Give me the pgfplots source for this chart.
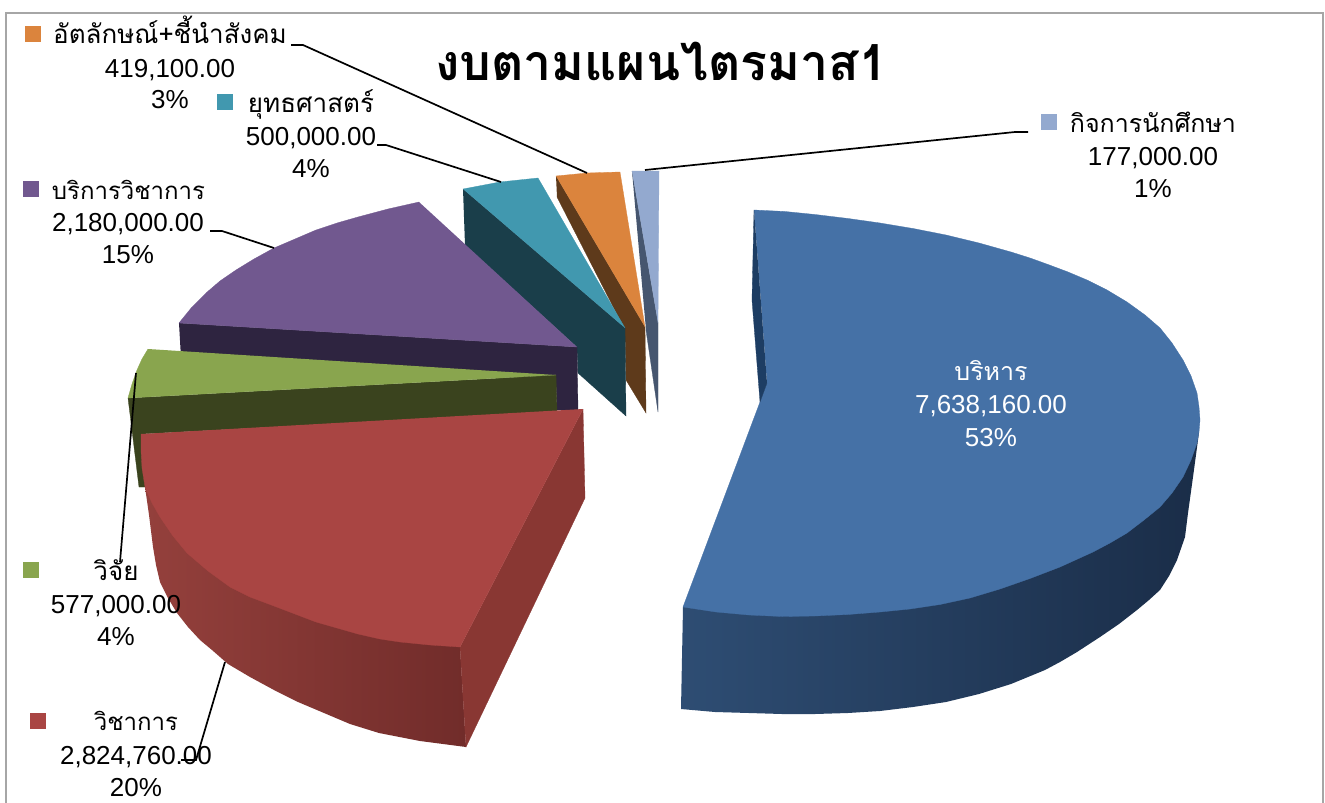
\documentclass[border=0pt]{standalone}
\usepackage{fontspec}
\usepackage{pgfplots}
\pgfplotsset{compat=1.18}
\setmainfont{Liberation Sans}
\newfontfamily\thaifont[Script=Thai]{Loma}

\definecolor{blueTop}{HTML}{4571A6}
\definecolor{blueSideA}{HTML}{2E4D73}
\definecolor{blueSideM}{HTML}{1C3150}
\definecolor{blueSideB}{HTML}{1A2D48}
\definecolor{blueIn}{HTML}{1D3D63}
\definecolor{redTop}{HTML}{A94543}
\definecolor{redSideA}{HTML}{94403C}
\definecolor{redSideB}{HTML}{712C2A}
\definecolor{redIn}{HTML}{893733}
\definecolor{greenTop}{HTML}{89A54E}
\definecolor{greenSide}{HTML}{3A431E}
\definecolor{purpleTop}{HTML}{71588F}
\definecolor{purpleSide}{HTML}{2E2440}
\definecolor{tealTop}{HTML}{4198AF}
\definecolor{tealSide}{HTML}{1A3E4A}
\definecolor{orangeTop}{HTML}{DB843D}
\definecolor{orangeSide}{HTML}{5E3A1B}
\definecolor{lightTop}{HTML}{93A9CF}
\definecolor{lightSide}{HTML}{46566F}
\definecolor{frameGray}{HTML}{A6A6A6}

\pgfplotsset{
  face/.style={draw=#1, line width=0.3pt, fill=#1},
  leader/.style={draw=black, line width=1.7pt},
}
\newcommand{\num}[3]{\node[anchor=base, font=\fontsize{26}{26}\selectfont, text=#3] at (axis cs:#1) {#2};}
\newcommand{\thai}[4][26]{\node[anchor=base, font=\fontsize{#1}{#1}\selectfont\thaifont, text=#4] at (axis cs:#2) {#3};}

\begin{document}
\begin{tikzpicture}
\begin{axis}[
  scale only axis,
  width=1325pt, height=803pt,
  xmin=0, xmax=1325, ymin=0, ymax=803,
  y dir=reverse,
  hide axis,
]
% page and frame
\addplot[fill=white, draw=none] coordinates {(0,0)(1325,0)(1325,803)(0,803)};
\addplot[draw=frameGray, line width=2pt] coordinates {(5.5,803)(5.5,12.5)(1323,12.5)(1323,803)};

% กิจการนักศึกษา
\addplot[face=lightSide] coordinates {(632,171)(658,323)(658,412)(646,330)};
\addplot[face=lightTop] coordinates {(632,171)(645,171)(659,171)(658,323)};
% อัตลักษณ์
\addplot[face=orangeSide] coordinates {(556,176)(645,327)(646,413)(626,380)(625,330)(557,197)};
\addplot[face=orangeTop] coordinates {(556,176)(587,173)(620,172)(645,327)};
% ยุทธศาสตร์
\addplot[face=tealSide] coordinates {(463,189)(625,328)(626,416)(578,373)(577,347)(465,245)};
\addplot[face=tealTop] coordinates {(463,189)(500,182)(538,178)(625,328)};
% บริการวิชาการ
\addplot[face=purpleSide] coordinates {(179,323)(577,347)(578,410)(557,410)(556,380)(181,358)};
\addplot[face=purpleTop] coordinates {(419,202)(388,209)(358,217)(337,223)(316,230)(295,239)(274,248)(254,259)(236,270)(220,281)(206,293)(192,307)(179,323)(577,347)};
% วิจัย
\addplot[face=greenSide] coordinates {(128,398)(139,487)(146,487)(141,434)(557,412)(556,375)};
\addplot[face=greenTop] coordinates {(148,349)(142,359)(137,370)(132,384)(128,398)(556,375)};
% วิชาการ
\addplot[draw=none, left color=redSideA, right color=redSideB] coordinates {
  (145,487)(149,515)(153,547)(156,565)(160,582)(168,598)(177,613)(188,627)(200,640)(212,650)(228,664)(250,677)(274,690)(298,702)(324,713)(350,724)(379,733)(420,741)(466,747)
  (460,647)(400,600)(232,520)};
\addplot[face=redIn] coordinates {(583,409)(585,498)(466,747)(460,647)};
\addplot[face=redTop] coordinates {
  (141,434)(141,450)(142,468)(145,487)(152,503)(160,517)(173,536)(187,553)(208,571)(230,587)(250,597)(274,606)(295,614)(316,622)(337,628)(358,634)(380,639)(400,642)(430,645)(460,647)(583,409)};
% บริหาร
\addplot[draw=none, left color=blueSideA, middle color=blueSideM, right color=blueSideB] coordinates {
  (1199,432)(1198,440)(1193,477)(1188,513)(1185,537)(1177,560)(1169,576)(1160,590)(1149,600)(1137,610)(1119,624)(1100,637)(1077,652)(1060,662)(1045,670)(1028,677)(1011,684)(979,694)(946,702)(913,707)(880,711)(848,713)(815,714)(782,714)(749,713)(715,712)(681,709)
  (683,607)(760,500)(1000,450)};
\addplot[face=blueTop] coordinates {
  (754,210)(785,211.5)(815,214.5)(848,218.5)(880,223)(913,228.5)(946,235)(979,243)(1011,252)(1030,258)(1048,264.5)(1068,272)(1087,280)(1107,290)(1127,302)(1145,315)(1160,328)(1172,343)(1183,360)(1191,376)(1197,393)(1199,407)(1200,420)(1199,432)(1197,443)(1191,460)(1183,477)(1172,493)(1160,507)(1144,520)(1127,533)(1110,543)(1093,552)(1060,567)(1030,578.5)(1000,589)(970,598)(940,604.5)(910,609)(880,612)(848,614.5)(815,616)(782,616.5)(749,615)(716,612)(683,607)(760,402)(767,383)};
\addplot[face=blueIn] coordinates {(754,210)(752,300)(760,402)(767,383)};

% leader lines
\addplot[leader] coordinates {(291,45)(303,45)(587,173)};
\addplot[leader] coordinates {(377,145)(386,145)(501,182)};
\addplot[leader] coordinates {(210,231)(222,231)(274,248)};
\addplot[leader] coordinates {(136,373)(120,562)};
\addplot[leader] coordinates {(225,662)(196,760)(181,760)};
\addplot[leader] coordinates {(645,170)(1015,132)(1028,132)};

% legend keys
\addplot[face=orangeTop] coordinates {(25,26)(40,26)(40,41)(25,41)};
\addplot[face=tealTop] coordinates {(217,94)(232,94)(232,109)(217,109)};
\addplot[face=purpleTop] coordinates {(23,181)(38,181)(38,196)(23,196)};
\addplot[face=greenTop] coordinates {(23,562)(38,562)(38,577)(23,577)};
\addplot[face=redTop] coordinates {(30,713)(45,713)(45,728)(30,728)};
\addplot[face=lightTop] coordinates {(1041,114)(1056,114)(1056,129)(1041,129)};

% title
\node[anchor=base, font=\fontsize{50}{50}\selectfont\thaifont\bfseries] at (axis cs:661,80) {งบตามแผนไตรมาส1};

% labels
\thai{170,43}{อัตลักษณ์+ชี้นำสังคม}{black}
\num{170,77}{419,100.00}{black}
\num{170,108}{3\%}{black}
\thai{311,112}{ยุทธศาสตร์}{black}
\num{311,145}{500,000.00}{black}
\num{311,177}{4\%}{black}
\thai[24]{128.5,199}{บริการวิชาการ}{black}
\num{128,231}{2,180,000.00}{black}
\num{128,263}{15\%}{black}
\thai{116,580}{วิจัย}{black}
\num{116,613}{577,000.00}{black}
\num{116,645}{4\%}{black}
\thai[24]{136,730}{วิชาการ}{black}
\num{136,764}{2,824,760.00}{black}
\num{136,796}{20\%}{black}
\thai[25]{1153,132}{กิจการนักศึกษา}{black}
\num{1153,165}{177,000.00}{black}
\num{1153,197}{1\%}{black}
\thai[25]{991,380}{บริหาร}{white}
\num{991,413}{7,638,160.00}{white}
\num{991,446}{53\%}{white}
\end{axis}
\end{tikzpicture}
\end{document}
